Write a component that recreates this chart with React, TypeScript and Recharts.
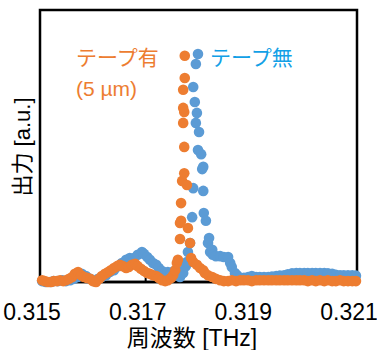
import React from 'react';
import { ScatterChart, Scatter, XAxis, YAxis, ReferenceArea } from 'recharts';

// テープ有 (5 µm) : frequency [THz] / output [a.u.]
const tapeOnFreq = [
  0.31504, 0.31509, 0.31515, 0.31521, 0.31526, 0.31532, 0.31538, 0.31544, 0.31549, 0.31555,
  0.31561, 0.31566, 0.31572, 0.31578, 0.31583, 0.31589, 0.31595, 0.316, 0.31606, 0.31612,
  0.31617, 0.31623, 0.31629, 0.31634, 0.3164, 0.31646, 0.31651, 0.31657, 0.31663, 0.31668,
  0.31674, 0.3168, 0.31685, 0.31691, 0.31697, 0.31703, 0.31708, 0.31714, 0.3172, 0.31725,
  0.31731, 0.31737, 0.31742, 0.31748, 0.31752, 0.31756, 0.31759, 0.31761,
  0.31765, 0.31765, 0.31767, 0.31767, 0.31769, 0.31773, 0.31773, 0.31771, 0.31773, 0.31771,
  0.31771, 0.31774, 0.31774, 0.31778, 0.3178, 0.31784, 0.31786, 0.3179, 0.31797, 0.31803,
  0.31809, 0.31812, 0.31818, 0.31826, 0.31833, 0.31841,
  0.31848, 0.31856, 0.31863, 0.31871, 0.31879, 0.31886, 0.31894, 0.31901, 0.31909, 0.31916,
  0.31924, 0.31932, 0.31939, 0.31947, 0.31954, 0.31962, 0.31969, 0.31977, 0.31985, 0.31992,
  0.32, 0.32007, 0.32015, 0.32022, 0.3203, 0.32038, 0.32045, 0.32053, 0.3206, 0.32068,
  0.32075, 0.32083, 0.32091, 0.32098,
];
const tapeOnPower = [
  0.04, 0.02, 0.0, 0.0, 0.02, 0.02, 0.04, 0.02, 0.04, 0.07,
  0.11, 0.18, 0.22, 0.15, 0.11, 0.09, 0.07, 0.02, 0.0, 0.07,
  0.13, 0.18, 0.22, 0.26, 0.31, 0.35, 0.38, 0.35, 0.31, 0.33,
  0.38, 0.4, 0.35, 0.29, 0.24, 0.2, 0.18, 0.15, 0.13, 0.09,
  0.04, 0.02, 0.04, 0.09, 0.15, 0.26, 0.42, 0.49,
  0.95, 1.3, 1.35, 1.74, 2.23, 2.4, 2.98, 3.51, 3.75, 3.84,
  4.24, 4.5, 4.99, 2.14, 1.19, 0.86, 0.53, 0.44, 0.38, 0.31,
  0.26, 0.2, 0.15, 0.11, 0.07, 0.04,
  0.02, 0.02, 0.04, 0.02, 0.04, 0.04, 0.04, 0.02, 0.04, 0.04,
  0.04, 0.04, 0.04, 0.04, 0.04, 0.04, 0.04, 0.04, 0.04, 0.04,
  0.04, 0.02, 0.04, 0.02, 0.04, 0.02, 0.04, 0.02, 0.02, 0.04,
  0.02, 0.02, 0.02, 0.02,
];

// テープ無
const tapeOffFreq = [
  0.31504, 0.31511, 0.31519, 0.31526, 0.31534, 0.31542, 0.31549, 0.31557, 0.31564, 0.31572,
  0.31579, 0.31587, 0.31595, 0.31602, 0.3161, 0.31617, 0.31625, 0.31632, 0.3164, 0.31648,
  0.31655, 0.31663, 0.3167, 0.31678, 0.31685, 0.31693, 0.31697, 0.31703, 0.31708, 0.31714,
  0.3172, 0.31725, 0.31731, 0.31737, 0.31742, 0.31748, 0.31754, 0.31759, 0.31765, 0.31771,
  0.31776, 0.31778, 0.3178, 0.31784, 0.31788, 0.3179,
  0.3179, 0.31793, 0.31795, 0.31795, 0.31797, 0.31799, 0.31799, 0.31801, 0.31805, 0.31807,
  0.31809, 0.31809, 0.3181, 0.31814, 0.31818, 0.3182, 0.31822, 0.31826, 0.31827, 0.31833,
  0.31841, 0.31848, 0.31856, 0.3186, 0.31863, 0.31869, 0.31873, 0.31879, 0.31886, 0.31894,
  0.31901,
  0.31909, 0.31916, 0.31924, 0.31932, 0.31939, 0.31947, 0.31954, 0.31962, 0.31969, 0.31977,
  0.31985, 0.31992, 0.32, 0.32007, 0.32015, 0.32022, 0.3203, 0.32038, 0.32045, 0.32053,
  0.3206, 0.32068, 0.32075, 0.32083, 0.32091, 0.32098,
];
const tapeOffPower = [
  0.02, 0.0, 0.0, 0.02, 0.02, 0.04, 0.02, 0.04, 0.07, 0.11,
  0.18, 0.13, 0.07, 0.02, 0.07, 0.11, 0.15, 0.22, 0.26, 0.35,
  0.42, 0.49, 0.53, 0.53, 0.6, 0.66, 0.62, 0.55, 0.49, 0.42,
  0.38, 0.31, 0.24, 0.2, 0.22, 0.2, 0.24, 0.26, 0.11, 0.2,
  0.35, 0.44, 0.66, 0.86, 1.43, 2.07,
  4.3, 3.97, 4.81, 3.51, 3.73, 5.03, 2.91, 3.31, 2.82, 2.49,
  2.54, 2.01, 1.52, 1.35, 0.86, 0.97, 0.66, 0.71, 0.6, 0.57,
  0.57, 0.55, 0.55, 0.42, 0.33, 0.2, 0.15, 0.09, 0.09, 0.11,
  0.13,
  0.11, 0.11, 0.11, 0.11, 0.12, 0.13, 0.14, 0.15, 0.17, 0.19,
  0.2, 0.2, 0.2, 0.2, 0.2, 0.2, 0.2, 0.2, 0.19, 0.18,
  0.16, 0.15, 0.15, 0.15, 0.15, 0.14,
];

const freqTicks = [0.315, 0.317, 0.319, 0.321];
const powerTicks = [0, 1, 2, 3, 4, 5, 6];

const ORANGE = '#ED7D31';
const BLUE = '#5B9BD5';
const LABEL_BLUE = '#12A0E6';
const FONT = '"Liberation Sans", Arial, "Noto Sans CJK JP", sans-serif';

const tapeOn = tapeOnFreq.map((f, i) => ({ f, p: tapeOnPower[i] }));
const tapeOff = tapeOffFreq.map((f, i) => ({ f, p: tapeOffPower[i] }));

const dot = (color: string) => (props: any) => (
  <circle cx={props.cx} cy={props.cy} r={5.3} fill={color} />
);

const txt = (left: number, top: number, size: number, color: string, extra = {}) => ({
  position: 'absolute' as const,
  left,
  top,
  fontSize: size,
  color,
  fontFamily: FONT,
  lineHeight: 1,
  whiteSpace: 'nowrap' as const,
  ...extra,
});

export default function App() {
  return (
    <div style={{ position: 'absolute', left: 0, top: 0, width: 377, height: 350, background: '#fff' }}>
      <ScatterChart width={377} height={350} margin={{ top: 10, right: 20, bottom: 0, left: 40 }}>
        <XAxis
          dataKey="f"
          type="number"
          domain={[0.315, 0.321]}
          ticks={freqTicks}
          tickFormatter={(v: number) => v.toFixed(3)}
          height={68}
          tickSize={-6}
          tickMargin={28}
          axisLine={{ stroke: '#000', strokeWidth: 2.5 }}
          tickLine={{ stroke: '#000', strokeWidth: 2 }}
          tick={{ fontSize: 23, fill: '#000', fontFamily: FONT, dx: -8 }}
          interval={0}
        />
        <YAxis
          dataKey="p"
          type="number"
          domain={[0, 6]}
          ticks={powerTicks}
          width={0}
          tick={false}
          tickSize={-6}
          axisLine={{ stroke: '#000', strokeWidth: 2.5 }}
          tickLine={{ stroke: '#000', strokeWidth: 2 }}
          interval={0}
        />
        <ReferenceArea x1={0.315} x2={0.321} y1={0} y2={6} fill="none" stroke="#000" strokeWidth={2.5} fillOpacity={0} />
        <Scatter data={tapeOff} fill={BLUE} shape={dot(BLUE)} isAnimationActive={false} />
        <Scatter data={tapeOn} fill={ORANGE} shape={dot(ORANGE)} isAnimationActive={false} />
      </ScatterChart>

      <div style={txt(76, 47, 21, ORANGE)}>テープ有</div>
      <div style={txt(76, 78, 21, ORANGE)}>(5 µm)</div>
      <div style={txt(210, 47, 21, LABEL_BLUE)}>テープ無</div>
      <div style={txt(192, 338, 23, '#000', { transform: 'translate(-50%, -50%)' })}>周波数 [THz]</div>
      <div style={txt(23, 147, 22, '#000', { transform: 'translate(-50%, -50%) rotate(-90deg)' })}>出力 [a.u.]</div>
    </div>
  );
}
